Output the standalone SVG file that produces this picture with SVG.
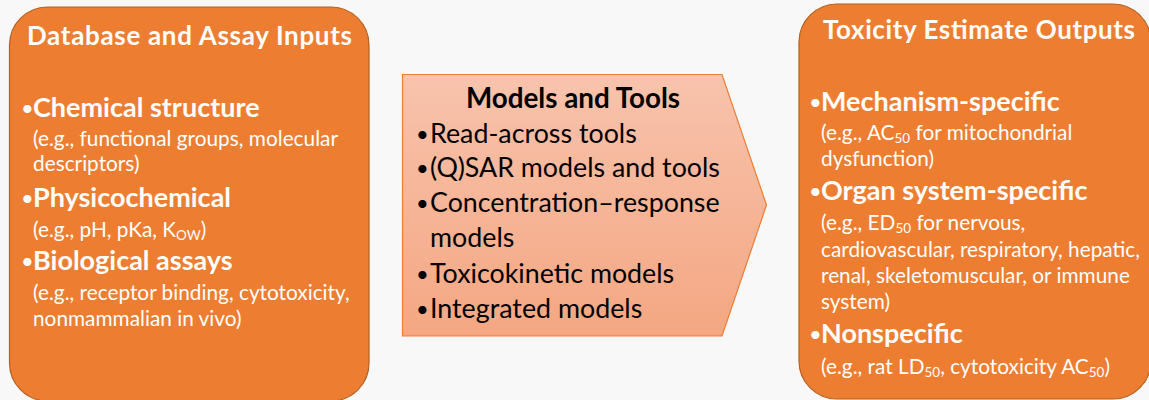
<svg xmlns="http://www.w3.org/2000/svg" width="1149" height="400" viewBox="0 0 1149 400">
<defs>
<linearGradient id="mg" x1="0" y1="0" x2="0" y2="1">
<stop offset="0" stop-color="#f8c3ad"/>
<stop offset="1" stop-color="#f4a782"/>
</linearGradient>
<style>
.box{fill:#ed7d31;stroke:#b4601f;stroke-width:1.2}
.t{font-family:Lato,"Open Sans",sans-serif}
.h{font-weight:bold;font-size:26px;fill:#fff;text-anchor:middle}
.b{font-weight:bold;font-size:27px;fill:#fff}
.bu{font-size:22px;fill:#fff}
.s{font-size:20.8px;fill:#fff}
.m{font-size:26.8px;fill:#000}
.mb{font-size:22px;fill:#000}
.mh{font-weight:bold;font-size:27.8px;fill:#000;text-anchor:middle}
.sub{font-size:13.5px}
</style>
</defs>
<rect width="1149" height="400" fill="#f8f8f8"/>
<g id="inputs">
<rect class="box" x="9.5" y="7" width="359.5" height="394" rx="38" ry="38"/>
<text class="t h" x="189.5" y="45" textLength="325" lengthAdjust="spacing">Database and Assay Inputs</text>
<text class="t bu" x="21" y="116">•</text><text class="t b" x="33" y="117">Chemical structure</text>
<text class="t s" x="33" y="146">(e.g., functional  groups, molecular</text>
<text class="t s" x="33" y="171">descriptors)</text>
<text class="t bu" x="21" y="206">•</text><text class="t b" x="33" y="207">Physicochemical</text>
<text class="t s" x="33" y="237">(e.g., pH, pKa, K<tspan class="sub" dy="3">OW</tspan><tspan dy="-3">)</tspan></text>
<text class="t bu" x="21" y="269">•</text><text class="t b" x="33" y="270">Biological assays</text>
<text class="t s" x="33" y="300">(e.g., receptor binding, cytotoxicity,</text>
<text class="t s" x="33" y="326">nonmammalian in vivo)</text>
</g>
<g id="models">
<path d="M402.5 74.5 H722 L766.5 205 L722 336 H402.5 Z" fill="url(#mg)" stroke="#ed7d31" stroke-width="1.2"/>
<text class="t mh" x="573" y="108">Models and Tools</text>
<text class="t mb" x="416" y="142">•</text><text class="t m" x="430" y="143">Read-across tools</text>
<text class="t mb" x="416" y="176">•</text><text class="t m" x="430" y="177">(Q)SAR models and tools</text>
<text class="t mb" x="416" y="211">•</text><text class="t m" x="430" y="212">Concentration–response</text>
<text class="t m" x="430" y="247">models</text>
<text class="t mb" x="416" y="282">•</text><text class="t m" x="430" y="283">Toxicokinetic models</text>
<text class="t mb" x="416" y="317">•</text><text class="t m" x="430" y="318">Integrated models</text>
</g>
<g id="outputs">
<rect class="box" x="799" y="4" width="352" height="395" rx="38" ry="38"/>
<text class="t h" x="979" y="39" textLength="312" lengthAdjust="spacing">Toxicity Estimate Outputs</text>
<text class="t bu" x="809" y="110">•</text><text class="t b" x="821" y="111">Mechanism-specific</text>
<text class="t s" x="821" y="140">(e.g., AC<tspan class="sub" dy="3">50</tspan><tspan dy="-3"> for mitochondrial</tspan></text>
<text class="t s" x="821" y="166">dysfunction)</text>
<text class="t bu" x="809" y="199">•</text><text class="t b" x="821" y="200">Organ system-specific</text>
<text class="t s" x="821" y="230">(e.g., ED<tspan class="sub" dy="3">50</tspan><tspan dy="-3"> for nervous,</tspan></text>
<text class="t s" x="821" y="257">cardiovascular, respiratory, hepatic,</text>
<text class="t s" x="821" y="283">renal, skeletomuscular, or immune</text>
<text class="t s" x="821" y="309">system)</text>
<text class="t bu" x="809" y="342">•</text><text class="t b" x="821" y="343">Nonspecific</text>
<text class="t s" x="821" y="374">(e.g., rat LD<tspan class="sub" dy="3">50</tspan><tspan dy="-3">, cytotoxicity AC</tspan><tspan class="sub" dy="3">50</tspan><tspan dy="-3">)</tspan></text>
</g>
</svg>
